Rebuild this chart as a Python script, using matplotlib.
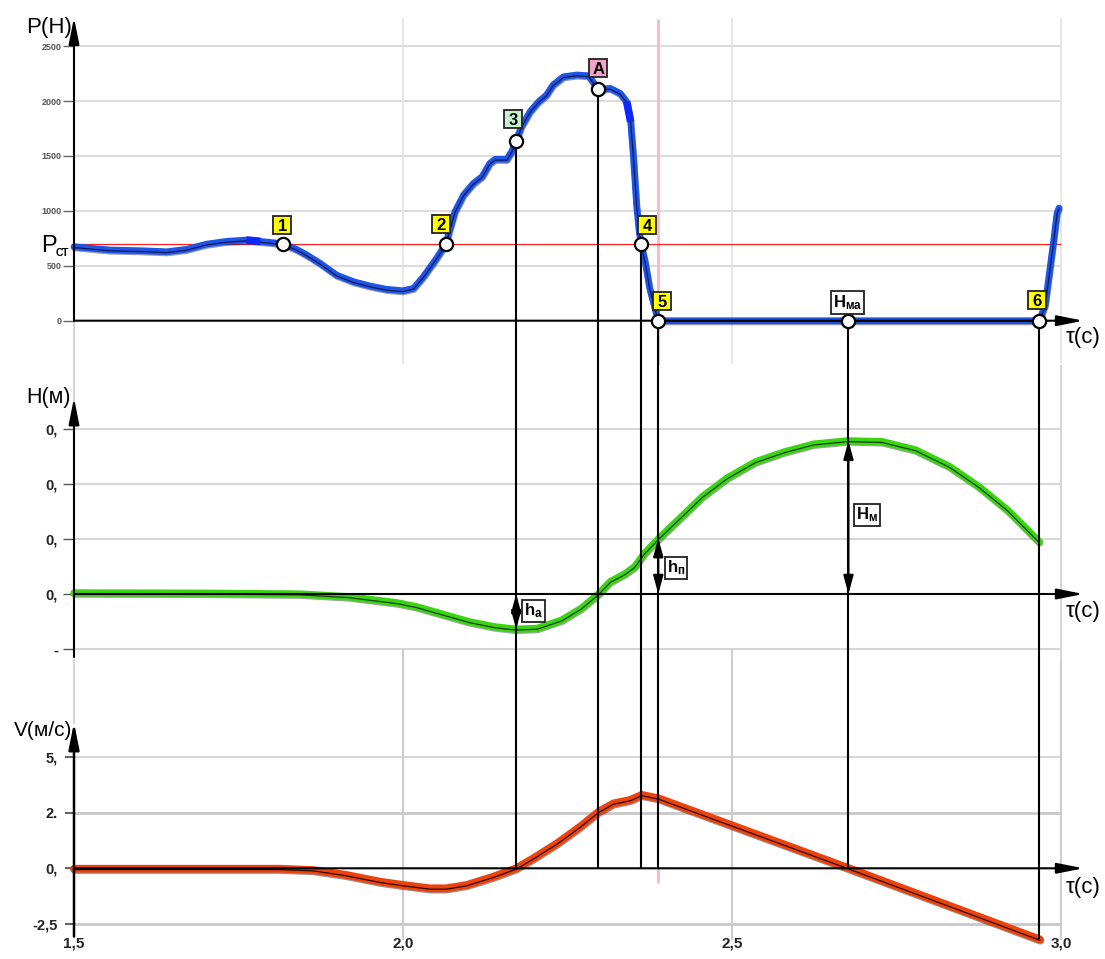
import matplotlib
matplotlib.use("Agg")
import matplotlib.pyplot as plt
from matplotlib import patheffects as pe
from matplotlib.transforms import ScaledTranslation

plt.rcParams['font.family'] = ['Liberation Sans', 'DejaVu Sans']
plt.rcParams['mathtext.fontset'] = 'custom'
plt.rcParams['mathtext.rm'] = 'Liberation Sans'
plt.rcParams['mathtext.bf'] = 'Liberation Sans:bold'
plt.rcParams['mathtext.it'] = 'Liberation Sans:italic'
plt.rcParams['mathtext.sf'] = 'Liberation Sans'

# ---------------- data ----------------
force_t = [1.500, 1.555, 1.605, 1.641, 1.671, 1.702, 1.732, 1.762, 1.783, 1.818,
           1.838, 1.854, 1.874, 1.899, 1.925, 1.950, 1.975, 2.000, 2.016, 2.031,
           2.051, 2.065, 2.079, 2.092, 2.107, 2.120, 2.132, 2.140, 2.158, 2.165,
           2.172, 2.180, 2.193, 2.206, 2.218, 2.228, 2.244, 2.264, 2.282, 2.297,
           2.315, 2.330, 2.340, 2.346, 2.350, 2.355, 2.359, 2.362, 2.368, 2.375,
           2.383, 2.388, 2.500, 2.700, 2.967, 2.976, 2.983, 2.989, 2.994, 2.997]
force_p = [674, 644, 637, 628, 650, 698, 723, 735, 723, 700,
           650, 598, 523, 416, 355, 316, 286, 273, 295, 401,
           568, 700, 993, 1145, 1251, 1311, 1433, 1470, 1470, 1539,
           1640, 1767, 1903, 1994, 2055, 2147, 2222, 2238, 2231, 2107,
           2116, 2071, 1994, 1812, 1509, 1054, 811, 700, 537, 295,
           113, 0, 0, 0, 0, 143, 462, 735, 981, 1026]

height_t = [1.500, 1.700, 1.843, 1.917, 1.991, 2.020, 2.064, 2.101, 2.138, 2.171,
            2.204, 2.241, 2.271, 2.297, 2.315, 2.337, 2.352, 2.367, 2.389, 2.418,
            2.455, 2.492, 2.536, 2.580, 2.624, 2.676, 2.728, 2.779, 2.831, 2.875,
            2.919, 2.967]
height_h = [0.004, 0.003, 0.000, -0.010, -0.032, -0.046, -0.076, -0.101, -0.119, -0.128,
            -0.125, -0.095, -0.052, 0.000, 0.045, 0.073, 0.099, 0.148, 0.203, 0.269,
            0.354, 0.421, 0.481, 0.517, 0.545, 0.557, 0.554, 0.524, 0.463, 0.391,
            0.305, 0.190]

vel_t = [1.500, 1.700, 1.813, 1.864, 1.914, 1.965, 2.000, 2.041, 2.066, 2.097,
         2.137, 2.172, 2.198, 2.234, 2.269, 2.297, 2.320, 2.345, 2.363, 2.388,
         2.678, 2.968]
vel_v = [-0.02, -0.02, -0.02, -0.08, -0.30, -0.60, -0.75, -0.90, -0.90, -0.75,
         -0.38, 0.00, 0.45, 1.12, 1.87, 2.54, 2.92, 3.07, 3.30, 3.15,
         0.00, -3.20]

p_ticks = [0, 500, 1000, 1500, 2000, 2500]
p_tick_labels = ['0', '500', '1000', '1500', '2000', '2500']
h_ticks = [0.6, 0.4, 0.2, 0.0, -0.2]
h_tick_labels = ['0,', '0,', '0,', '0,', '-']
v_ticks = [5.0, 2.5, 0.0, -2.5]
v_tick_labels = ['5,', '2.', '0,', '-2,5']
t_ticks = [1.5, 2.0, 2.5, 3.0]
t_tick_labels = ['1,5', '2,0', '2,5', '3,0']
p_static = 700

event_names = ['1', '2', '3', 'А', '4', '5', r'$\mathbf{H_{ма}}$', '6']
event_t = [1.818, 2.065, 2.172, 2.297, 2.362, 2.388, 2.677, 2.967]
event_p = [700, 700, 1640, 2107, 700, 0, 0, 0]
# events with a vertical line: index -> velocity value where the line ends
line_events = [2, 3, 4, 5, 6, 7]
line_v_end = [0.0, 0.0, 0.0, 0.0, 0.0, -3.2]

ha_t, ha_top, ha_bot = 2.172, 0.0, -0.128
hp_t, hp_top, hp_bot = 2.388, 0.203, 0.0
hm_t, hm_top, hm_bot = 2.677, 0.557, 0.0

# highlighted (bright) pieces of the force curve
bright_ranges = [(1.760, 1.790), (2.339, 2.347)]

# ---------------- styles / layout ----------------
box_colors = ['#ffff00', '#ffff00', '#c8f0cc', '#f4a2c8', '#ffff00', '#ffff00', 'white', '#ffff00']
box_offsets_px = [(-1, 19), (-5, 20), (-3, 22), (0, 21), (6, 19), (4, 20), (-1, 18), (-2, 21)]

W, HP = 1105, 959
fig = plt.figure(figsize=(W / 100, HP / 100), dpi=100)
XL = (1.5 - 74 / 658, 1.5 + (W - 74) / 658)


def add_ax(top, bot, ylim):
    ax = fig.add_axes([0, 1 - bot / HP, 1, (bot - top) / HP])
    ax.set_facecolor('none')
    for s in ax.spines.values():
        s.set_visible(False)
    ax.spines['left'].set_position(('data', 1.5))
    ax.set_xlim(*XL)
    ax.set_ylim(*ylim)
    ax.set_xticks([])
    return ax


ax_p = add_ax(0, 365, (-403.4, 2920.6))
ax_h = add_ax(365, 660, (-0.24, 0.8327))
ax_v = add_ax(660, 959, (-4.078, 9.365))

GRID = '#d6d6d6'


def arrow(ax, start, end, style='-|>,head_length=0.8,head_width=0.16', ms=20, lw=1.5, z=4):
    ax.annotate('', xy=end, xytext=start,
                arrowprops=dict(arrowstyle=style, color='k', lw=lw, shrinkA=0, shrinkB=0,
                                mutation_scale=ms),
                annotation_clip=False, zorder=z)


def styled_line(ax, t, y, color, dark, lw=4.4, z=3):
    ax.plot(t, y, color=color, lw=lw, solid_capstyle='round', solid_joinstyle='round', zorder=z,
            path_effects=[pe.SimpleLineShadow(offset=(0.3, -0.9), shadow_color=dark, alpha=0.45),
                          pe.Normal(),
                          pe.Stroke(linewidth=0.9, foreground=dark, offset=(0, -0.6))])


# ---- top panel: force ----
ax_p.hlines(p_ticks[1:], 1.5, 3.0, color=GRID, lw=1.2, zorder=1)
ax_p.vlines([2.0, 2.5, 3.0], -390, 2760, color='#e3e3e3', lw=1.2, zorder=1)
ax_p.vlines([1.5], -403, 0, color=GRID, lw=1.5, zorder=1)
ax_p.hlines([p_static], 1.5, 3.0, color='#ff2020', lw=0.9, zorder=2)
ax_p.vlines([event_t[5]], -403, 2745, color='#ffb8b8', lw=2, zorder=1)
styled_line(ax_p, force_t, force_p, '#1f55e4', '#0b1a5e', lw=4.8)
for a, b in bright_ranges:
    seg = [(t, p) for t, p in zip(force_t, force_p) if a <= t <= b]
    ax_p.plot([s[0] for s in seg], [s[1] for s in seg], color='#0a28ff', lw=5.5,
              solid_capstyle='butt', zorder=3.5)
arrow(ax_p, (1.5, 0), (3.034, 0))
arrow(ax_p, (1.5, 0), (1.5, 2760))
ax_p.set_yticks(p_ticks, p_tick_labels, fontsize=6.5, fontweight='bold', color='#555',
                family=['Liberation Sans Narrow', 'Liberation Sans'])
ax_p.tick_params(axis='y', length=8, width=1, color='#666', pad=1)

# ---- middle panel: height ----
ax_h.hlines([v for v in h_ticks if v != 0], 1.5, 3.0, color=GRID, lw=1.5, zorder=1)
ax_h.vlines([1.5, 3.0], -0.24, 0.8327, color=GRID, lw=1.5, zorder=1)
ax_h.vlines([2.0, 2.5], -0.24, -0.2, color='#cfcfcf', lw=1.5, zorder=1)
styled_line(ax_h, height_t, height_h, '#3ad412', '#15400a', lw=5.2)
arrow(ax_h, (1.5, 0), (3.034, 0))
arrow(ax_h, (1.5, -0.229), (1.5, 0.713))
ax_h.set_yticks(h_ticks, h_tick_labels, fontsize=10.5, fontweight='bold', color='#222')
ax_h.tick_params(axis='y', length=8, width=1, color='#555', pad=3.5)

# ---- bottom panel: velocity ----
ax_v.hlines([5.0], 1.5, 3.0, color=GRID, lw=1.5, zorder=1)
ax_v.hlines([2.5, -2.5], 1.5, 3.0, color='#c8c8c8', lw=2, zorder=1)
ax_v.vlines([2.0, 2.5, 3.0], -3.22, 9.365, color='#cdcdcd', lw=1.5, zorder=1)
ax_v.vlines([1.5], 6.5, 9.365, color=GRID, lw=1.5, zorder=1)
ax_v.vlines([event_t[5]], -0.65, 0, color='#ffb8b8', lw=2, zorder=1)
styled_line(ax_v, vel_t, vel_v, '#ec420c', '#2a0800', lw=5.6)
arrow(ax_v, (1.5, 0), (3.034, 0))
arrow(ax_v, (1.5, -3.07), (1.5, 6.55), lw=1.8)
ax_v.set_yticks(v_ticks, v_tick_labels, fontsize=10.5, fontweight='bold', color='#222')
ax_v.tick_params(axis='y', length=6.5, width=1.2, color='#444', pad=5)
ax_v.spines['bottom'].set_position(('data', -2.5))
ax_v.set_xticks(t_ticks, t_tick_labels, fontsize=11, fontweight='bold', color='#222')
ax_v.tick_params(axis='x', length=0, pad=9)

# ---- event vertical lines through all panels ----
for i, vend in zip(line_events, line_v_end):
    x = event_t[i]
    ax_p.vlines([x], -403.4, event_p[i], color='k', lw=1.5, zorder=5)
    ax_h.vlines([x], -0.24, 0.8327, color='k', lw=1.5, zorder=5)
    ax_v.vlines([x], vend, 9.365, color='k', lw=1.5, zorder=5)

# ---- double arrows in height panel ----
darr = '<|-|>,head_length=1.1,head_width=0.3'
arrow(ax_h, (ha_t, ha_top), (ha_t, ha_bot), style=darr, ms=10, z=6)
arrow(ax_h, (hp_t, hp_bot), (hp_t, hp_top), style=darr, ms=10, z=6)
arrow(ax_h, (hm_t, hm_bot), (hm_t, hm_top), style=darr, ms=10, z=6)
lbl_box = dict(boxstyle='square,pad=0.12', fc='white', ec='#222', lw=1.3)
ax_h.text(2.199, -0.062, r'$\mathbf{h_{а}}$', fontsize=12, ha='center', va='center', bbox=lbl_box, zorder=7)
ax_h.text(2.415, 0.0945, r'$\mathbf{h_{п}}$', fontsize=12, ha='center', va='center', bbox=lbl_box, zorder=7)
ax_h.text(2.705, 0.287, r'$\mathbf{H_{м}}$', fontsize=12, ha='center', va='center', bbox=lbl_box, zorder=7)

# ---- event markers and labels ----
ax_p.plot(event_t, event_p, 'o', ms=9.5, mfc='white', mec='k', mew=1.6, zorder=8)
for name, t, p, c, (dx, dy) in zip(event_names, event_t, event_p, box_colors, box_offsets_px):
    off = ScaledTranslation(dx / 100, dy / 100, fig.dpi_scale_trans)
    tr = ax_p.transData + off
    if name.startswith('$'):
        ax_p.text(t, p, name, transform=tr, fontsize=12, ha='center', va='center', zorder=9,
                  bbox=dict(boxstyle='square,pad=0.12', fc=c, ec='#222', lw=1.3))
    else:
        ax_p.plot([t], [p], 's', transform=tr, ms=13.5, mfc=c, mec='#222', mew=1.3, zorder=9,
                  clip_on=False)
        ax_p.text(t, p, name, transform=tr, fontsize=12, fontweight='bold', ha='center',
                  va='center_baseline', zorder=10)


# ---- axis titles ----
def ftext(px, py, s, **kw):
    fig.text(px / W, 1 - py / HP, s, ha='center', va='center', **kw)


ftext(49, 27, 'Р(Н)', fontsize=16)
ftext(48, 398, 'Н(м)', fontsize=15.5)
ftext(43, 731, 'V(м/с)', fontsize=15)
for yy in (338, 612, 887):
    ftext(1083, yy, 'τ(с)', fontsize=16)
ftext(48.5, 246, 'Р', fontsize=17)
ftext(62, 252.5, 'СТ', fontsize=7.5, fontweight='bold')

fig.savefig('out.png', dpi=100)
